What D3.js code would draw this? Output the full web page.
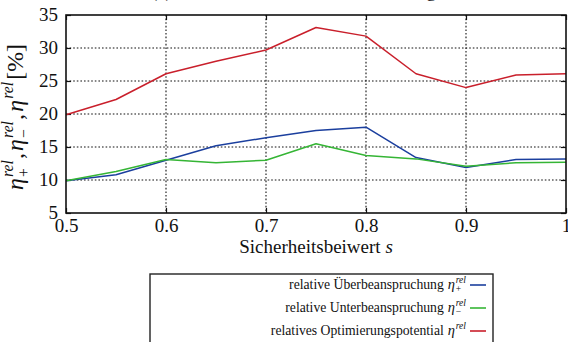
<!DOCTYPE html>
<html>
<head>
<meta charset="utf-8">
<script src="https://cdn.jsdelivr.net/npm/d3@7"></script>
<style>
  html, body { margin: 0; padding: 0; background: #fff; }
  svg { display: block; }
  text { font-family: "Liberation Serif", "Times New Roman", "DejaVu Serif", serif; fill: #111; }
</style>
</head>
<body>
<svg id="chart" width="568" height="342"></svg>
<script>
// Sicherheitsbeiwert s
const sValues = [0.5, 0.55, 0.6, 0.65, 0.7, 0.75, 0.8, 0.85, 0.9, 0.95, 1.0];
// relative Überbeanspruchung [%]
const etaPlus = [9.9, 10.8, 13.0, 15.2, 16.4, 17.5, 18.0, 13.4, 11.9, 13.1, 13.2];
// relative Unterbeanspruchung [%]
const etaMinus = [9.9, 11.3, 13.1, 12.6, 13.0, 15.5, 13.7, 13.2, 12.1, 12.6, 12.7];
// relatives Optimierungspotential [%]
const etaOpt = [19.9, 22.2, 26.1, 28.0, 29.7, 33.1, 31.8, 26.1, 24.0, 25.9, 26.1];

const xTicks = [0.5, 0.6, 0.7, 0.8, 0.9, 1.0];
const xTickLabels = ["0.5", "0.6", "0.7", "0.8", "0.9", "1"];
const yTicks = [5, 10, 15, 20, 25, 30, 35];
const yTickLabels = ["5", "10", "15", "20", "25", "30", "35"];

const seriesNames = ["relative Überbeanspruchung", "relative Unterbeanspruchung", "relatives Optimierungspotential"];
const seriesSubs = ["+", "\u2212", ""];
const seriesColors = ["#1b3f9e", "#35b535", "#c91f2b"];
const seriesValues = [etaPlus, etaMinus, etaOpt];

const svg = d3.select("#chart");
const pL = 66, pR = 566, pT = 15, pB = 213;

const x = d3.scaleLinear().domain([0.5, 1.0]).range([pL, pR]);
const y = d3.scaleLinear().domain([5, 35]).range([pB, pT]);

// title, mostly above the visible area
const title = svg.append("text")
  .attr("x", 151).attr("y", -3.5)
  .style("font-size", "19px")
  .text("(a) Sicherheitsbeiwert und Auslastung");
const tw = title.node().getComputedTextLength();
title.style("font-size", (19 * 285 / tw) + "px");

// dotted grid
const grid = svg.append("g");
grid.selectAll("line.gx").data(xTicks.slice(1, -1)).join("line")
  .attr("x1", d => x(d)).attr("x2", d => x(d))
  .attr("y1", pT).attr("y2", pB)
  .attr("stroke", "#111").attr("stroke-width", 1.1)
  .attr("stroke-dasharray", "1.6,2");
grid.selectAll("line.gy").data(yTicks.slice(1, -1)).join("line")
  .attr("x1", pL).attr("x2", pR)
  .attr("y1", d => y(d)).attr("y2", d => y(d))
  .attr("stroke", "#111").attr("stroke-width", 1.1)
  .attr("stroke-dasharray", "1.6,2");

// axes with inward ticks on all four sides
const axB = svg.append("g").attr("transform", `translate(0,${pB})`)
  .call(d3.axisBottom(x).tickValues(xTicks).tickSizeInner(-5).tickSizeOuter(0)
    .tickFormat((d, i) => xTickLabels[i]));
const axT = svg.append("g").attr("transform", `translate(0,${pT})`)
  .call(d3.axisTop(x).tickValues(xTicks).tickSizeInner(-5).tickSizeOuter(0).tickFormat(""));
const axL = svg.append("g").attr("transform", `translate(${pL},0)`)
  .call(d3.axisLeft(y).tickValues(yTicks).tickSizeInner(-5).tickSizeOuter(0)
    .tickFormat((d, i) => yTickLabels[i]));
const axR = svg.append("g").attr("transform", `translate(${pR},0)`)
  .call(d3.axisRight(y).tickValues(yTicks).tickSizeInner(-5).tickSizeOuter(0).tickFormat(""));
[axB, axT, axL, axR].forEach(a => {
  a.attr("font-family", null).attr("font-size", null);
  a.select(".domain").remove();
  a.selectAll(".tick line").attr("stroke", "#111").attr("stroke-width", 1.2);
  a.selectAll("text").style("font-size", "19px").attr("fill", "#111");
});
axB.selectAll("text").attr("dy", 0).attr("y", 19);
axL.selectAll("text").attr("x", -8).attr("dy", "0.3em");

// lines
const line = d3.line().x((d, i) => x(sValues[i])).y(d => y(d));
seriesValues.forEach((vals, k) => {
  svg.append("path").datum(vals)
    .attr("d", line)
    .attr("fill", "none")
    .attr("stroke", seriesColors[k])
    .attr("stroke-width", 1.5)
    .attr("stroke-linejoin", "round");
});

// plot frame
svg.append("rect")
  .attr("x", pL).attr("y", pT)
  .attr("width", pR - pL).attr("height", pB - pT)
  .attr("fill", "none").attr("stroke", "#111").attr("stroke-width", 1.6);

// x axis label
const xl = svg.append("text").attr("x", (pL + pR) / 2).attr("y", 253)
  .attr("text-anchor", "middle").style("font-size", "19px");
xl.append("tspan").text("Sicherheitsbeiwert\u00a0");
xl.append("tspan").style("font-style", "italic").text("s");

// builds η with optional sub/superscript from measured pieces
function etaSymbol(g, x0, base, size, sub) {
  const eta = g.append("text").attr("x", x0).attr("y", base)
    .style("font-size", size + "px").style("font-style", "italic").text("\u03b7");
  const sx = x0 + eta.node().getComputedTextLength() + size * 0.05;
  const sup = g.append("text").attr("x", sx).attr("y", base - size * 0.4)
    .style("font-size", (size * 0.66) + "px").style("font-style", "italic").text("rel");
  let w = sup.node().getComputedTextLength();
  if (sub) {
    const sb = g.append("text").attr("x", sx).attr("y", base + size * 0.24)
      .style("font-size", (size * 0.66) + "px").text(sub);
    w = Math.max(w, sb.node().getComputedTextLength());
  }
  return sx + w;
}

// y axis label (rotated), fitted to its span along the axis
const yl = svg.append("g");
const ySize = 22;
let yx = 0;
yx = etaSymbol(yl, yx, 0, ySize, "+");
let piece = yl.append("text").attr("x", yx + 1).attr("y", 0).style("font-size", ySize + "px").text(",");
yx += 1 + piece.node().getComputedTextLength() + 2;
yx = etaSymbol(yl, yx, 0, ySize, "\u2212");
piece = yl.append("text").attr("x", yx + 1).attr("y", 0).style("font-size", ySize + "px").text(",");
yx += 1 + piece.node().getComputedTextLength() + 2;
yx = etaSymbol(yl, yx, 0, ySize, "");
piece = yl.append("text").attr("x", yx + 2).attr("y", 0).style("font-size", ySize + "px").text("[%]");
yx += 2 + piece.node().getComputedTextLength();
const ySpan = 146;
const ys = ySpan / yx;
yl.attr("transform", `translate(23,${190}) rotate(-90) scale(${ys})`);

// legend
const legendRight = 493, legendTop = 274;
svg.append("rect")
  .attr("x", 150).attr("y", legendTop)
  .attr("width", legendRight - 150).attr("height", 90)
  .attr("fill", "#fff").attr("stroke", "#222").attr("stroke-width", 1.4);
const rowY = [289, 312, 335];
seriesNames.forEach((name, k) => {
  const g = svg.append("g");
  const lt = g.append("text").attr("x", 0).attr("y", 0).style("font-size", "13.7px").text(name);
  let w = lt.node().getComputedTextLength() + 4;
  w = etaSymbol(g, w, 0, 14.5, seriesSubs[k]);
  g.attr("transform", `translate(${466 - w},${rowY[k]})`);
  svg.append("line")
    .attr("x1", 470).attr("x2", 486)
    .attr("y1", rowY[k] - 4).attr("y2", rowY[k] - 4)
    .attr("stroke", seriesColors[k]).attr("stroke-width", 1.6);
});
</script>
</body>
</html>
